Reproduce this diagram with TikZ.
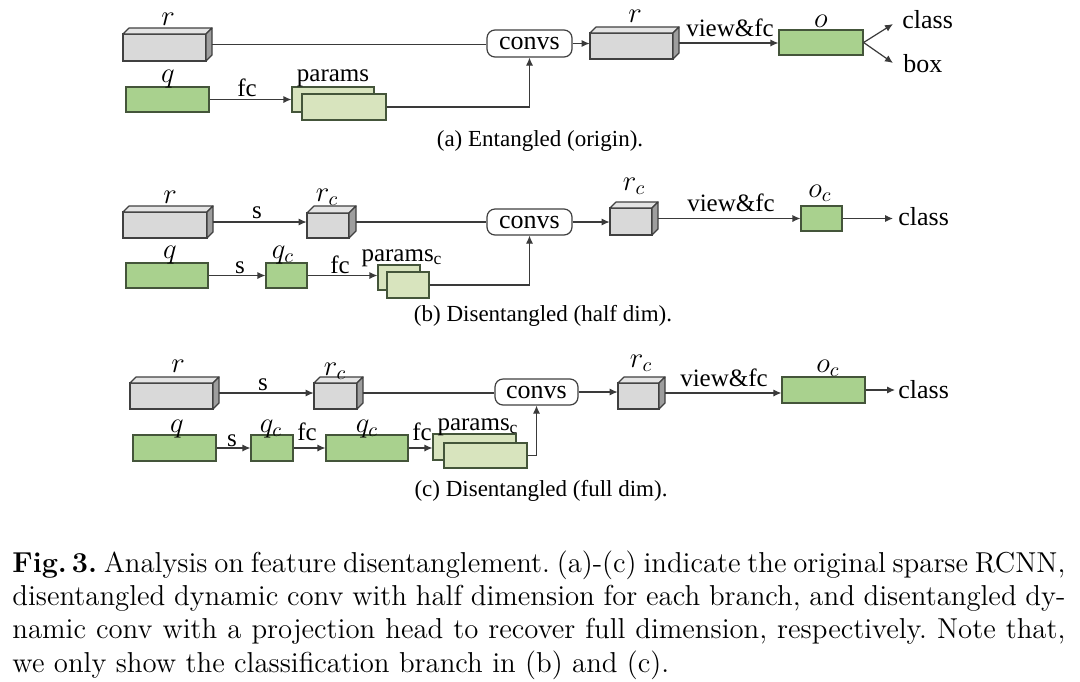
\documentclass[tikz,border=0pt]{standalone}
\usepackage{fontspec}
\newfontfamily\tms{Liberation Serif}
\usetikzlibrary{arrows.meta,calc}
\definecolor{gfront}{HTML}{D9D9D9}
\definecolor{gtop}{HTML}{E4E4E4}
\definecolor{gside}{HTML}{9E9E9E}
\definecolor{gedge}{HTML}{404040}
\definecolor{grn}{HTML}{A9D18E}
\definecolor{grnedge}{HTML}{44553A}
\definecolor{prm}{HTML}{D8E4BE}
\definecolor{ln}{HTML}{3A3A3A}
\tikzset{
  conn/.style={draw=ln, line width=0.6pt},
  arr/.style={conn, -{Latex[length=4pt,width=3.6pt]}},
  lbl/.style={font=\tms\fontsize{12.5}{14}\selectfont, inner sep=0pt, anchor=base},
  mlbl/.style={font=\fontsize{14.5}{16}\selectfont, inner sep=0pt, anchor=base},
  sublbl/.style={font=\tms\fontsize{11.5}{13}\selectfont, inner sep=0pt, anchor=base},
  convbox/.style={draw=gedge, line width=0.6pt, rounded corners=4pt, fill=white},
  greenbox/.style={draw=grnedge, line width=0.6pt, fill=grn},
  parambox/.style={draw=grnedge, line width=0.6pt, fill=prm},
  capline/.style={font=\fontsize{14.4}{16.7}\selectfont, inner sep=0pt, anchor=base west},
}
% name x1 y1 x2 y2 style
\newcommand\flatbox[6]{%
  \node[#6, inner sep=0pt, minimum width={(#4-#2)*0.5pt}, minimum height={(#5-#3)*0.5pt}] (#1) at ({(#2+#4)/2},{(#3+#5)/2}) {};}
% name x1 y1 x2 y2 depth
\newcommand\cuboid[6]{%
  \filldraw[fill=gfront, draw=gedge, line width=0.6pt] (#2,#3) rectangle (#4,#5);
  \filldraw[fill=gtop, draw=gedge, line width=0.6pt, line join=round] (#2,#3) -- ({#2+#6},{#3-#6}) -- ({#4+#6},{#3-#6}) -- (#4,#3) -- cycle;
  \filldraw[fill=gside, draw=gedge, line width=0.6pt, line join=round] (#4,#3) -- ({#4+#6},{#3-#6}) -- ({#4+#6},{#5-#6}) -- (#4,#5) -- cycle;
  \node[inner sep=0pt, minimum width={(#4-#2+#6)*0.5pt}, minimum height={(#5-#3+#6)*0.5pt}] (#1) at ({(#2+#4+#6)/2},{(#3+#5-#6)/2}) {};
  \coordinate (#1-e) at ({#4+#6},{(#3+#5-#6)/2});}
\begin{document}
\frenchspacing
\begin{tikzpicture}[x=0.5pt,y=-0.5pt]
\fill[white] (0,0) rectangle (1080,681);
\useasboundingbox (0,0) rectangle (1080,681);

% ---------------- (a) ----------------
\cuboid{ra}{123}{34}{206}{61}{6}
\flatbox{qa}{126}{87}{209}{112}{greenbox}
\flatbox{pa1}{292}{87}{374}{112}{parambox}
\flatbox{pa2}{302}{94}{386}{120}{parambox}
\node[convbox, inner sep=0pt, minimum width=42.5pt, minimum height=13.5pt, font=\tms\fontsize{13}{14}\selectfont] (ca) at (529.5,43.5) {convs};
\cuboid{ra2}{590}{33}{673}{59}{6}
\flatbox{oa}{779}{30}{863}{55}{greenbox}

\node[mlbl] (lra) at (168,25) {$r$};
\node[mlbl] (lqa) at (168,82) {$q$};
\node[lbl] (lfca) at (247,96) {fc};
\node[lbl] (lpa) at (333,81) {params};
\node[mlbl] (lra2) at (635,22) {$r$};
\node[lbl] (lvfa) at (730,36) {view\&fc};
\node[mlbl] (loa) at (821,27) {$o$};
\node[lbl, anchor=base west, font=\tms\fontsize{13}{14}\selectfont] (lcls) at (902,28) {class};
\node[lbl, anchor=base west, font=\tms\fontsize{13}{14}\selectfont] (lbox) at (903,72) {box};
\node[sublbl] (capa) at (540,146) {(a) Entangled (origin).};
\coordinate (tcls) at (893,24);
\coordinate (tbox) at (893,63);

\draw[conn] (ra-e) -- (ra-e -| ca.west);
\draw[arr] (qa.east) -- (pa1.west);
\draw[arr] (pa2.east) -| (ca.south);
\draw[arr] (ca.east) -- (ca.east -| ra2.west);
\draw[arr] (ra2-e) -- (ra2-e -| oa.west);
\draw[arr] (oa.east) -- (tcls);
\draw[arr] (oa.east) -- (tbox);

% ---------------- (b) ----------------
\cuboid{rb}{123}{212}{207}{238}{6}
\cuboid{rcb}{307}{213}{349}{238}{7}
\flatbox{qb}{126}{263}{208}{288}{greenbox}
\flatbox{qcb}{266}{263}{307}{288}{greenbox}
\flatbox{pb1}{378}{265}{420}{290}{parambox}
\flatbox{pb2}{387}{272}{429}{298}{parambox}
\node[convbox, inner sep=0pt, minimum width=42.5pt, minimum height=13pt, font=\tms\fontsize{13}{14}\selectfont] (cb) at (529.5,222) {convs};
\cuboid{rc2b}{610}{208}{652}{235}{6}
\flatbox{ob}{801}{206}{842}{231}{greenbox}

\node[mlbl] (lrb) at (170,203) {$r$};
\node[lbl] (lsb1) at (257,218) {s};
\node[mlbl] (lrcb) at (327,201) {$r_c$};
\node[mlbl] (lqb) at (170,258) {$q$};
\node[lbl] (lsb2) at (240,273) {s};
\node[mlbl] (lqcb) at (283,258) {$q_c$};
\node[lbl] (lfcb) at (340,273) {fc};
\node[lbl] (lpb) at (402,261) {params\textsubscript{c}};
\node[mlbl] (lrc2b) at (634,190) {$r_c$};
\node[lbl] (lvfb) at (731,211) {view\&fc};
\node[mlbl] (lob) at (820,197) {$o_c$};
\node[lbl, anchor=base west, font=\tms\fontsize{13}{14}\selectfont] (lclsb) at (898,225) {class};
\node[sublbl] (capb) at (543,321) {(b) Disentangled (half dim).};
\coordinate (tclsb) at (893,218.5);

\draw[arr] (rb-e) -- (rb-e -| rcb.west);
\draw[conn] (rcb-e) -- (rcb-e -| cb.west);
\draw[arr] (qb.east) -- (qcb.west);
\draw[arr] (qcb.east) -- (qcb.east -| pb1.west);
\draw[arr] (pb2.east) -| (cb.south);
\draw[arr] (cb.east) -- (cb.east -| rc2b.west);
\draw[arr] (rc2b-e) -- (rc2b-e -| ob.west);
\draw[arr] (ob.east) -- (tclsb);

% ---------------- (c) ----------------
\cuboid{rc}{130}{383}{213}{409}{6}
\cuboid{rcc}{314}{383}{357}{409}{6}
\flatbox{qc}{133}{435}{216}{461}{greenbox}
\flatbox{qc1}{251}{435}{293}{461}{greenbox}
\flatbox{qc2}{326}{435}{408}{461}{greenbox}
\flatbox{pc1}{433}{434}{516}{460}{parambox}
\flatbox{pc2}{444}{443}{527}{468}{parambox}
\node[convbox, inner sep=0pt, minimum width=41.5pt, minimum height=13pt, font=\tms\fontsize{13}{14}\selectfont] (cc) at (536.5,392) {convs};
\cuboid{rc2c}{618}{383}{659}{409}{6}
\flatbox{occ}{782}{377}{865}{403}{greenbox}

\node[mlbl] (lrc) at (178,372) {$r$};
\node[lbl] (lsc1) at (263,390) {s};
\node[mlbl] (lrcc) at (335,375) {$r_c$};
\node[mlbl] (lqc) at (177,432) {$q$};
\node[lbl] (lsc2) at (232,446) {s};
\node[mlbl] (lqc1) at (271,432) {$q_c$};
\node[lbl] (lfc1) at (307,440) {fc};
\node[mlbl] (lqc2) at (367,432) {$q_c$};
\node[lbl] (lfc2) at (422,440) {fc};
\node[lbl] (lpc) at (478,430) {params\textsubscript{c}};
\node[mlbl] (lrc2c) at (641,367) {$r_c$};
\node[lbl] (lvfc) at (724,386) {view\&fc};
\node[mlbl] (locc) at (828,372) {$o_c$};
\node[lbl, anchor=base west, font=\tms\fontsize{13}{14}\selectfont] (lclsc) at (898,398) {class};
\node[sublbl] (capc) at (541,496) {(c) Disentangled (full dim).};
\coordinate (tclsc) at (895,390);

\draw[arr] (rc-e) -- (rc-e -| rcc.west);
\draw[conn] (rcc-e) -- (rcc-e -| cc.west);
\draw[arr] (qc.east) -- (qc1.west);
\draw[arr] (qc1.east) -- (qc2.west);
\draw[arr] (qc2.east) -- (qc2.east -| pc1.west);
\draw[arr] (pc2.east) -| (cc.south);
\draw[arr] (cc.east) -- (cc.east -| rc2c.west);
\draw[arr] (rc2c-e) -- (rc2c-e -| occ.west);
\draw[arr] (occ.east) -- (tclsc);

% ---------------- caption ----------------
\node[capline] (cap1) at (12,572) {\makebox[526.5pt][s]{\textbf{Fig.\,3.} Analysis on feature disentanglement. (a)-(c) indicate the original sparse RCNN,}};
\node[capline] (cap2) at (12,605.4) {\makebox[526.5pt][s]{disentangled dynamic conv with half dimension for each branch, and disentangled dy-}};
\node[capline] (cap3) at (12,638.8) {\makebox[526.5pt][s]{namic conv with a projection head to recover full dimension, respectively. Note that,}};
\node[capline] (cap4) at (12,672.2) {we only show the classification branch in (b) and (c).};
\end{tikzpicture}
\end{document}
